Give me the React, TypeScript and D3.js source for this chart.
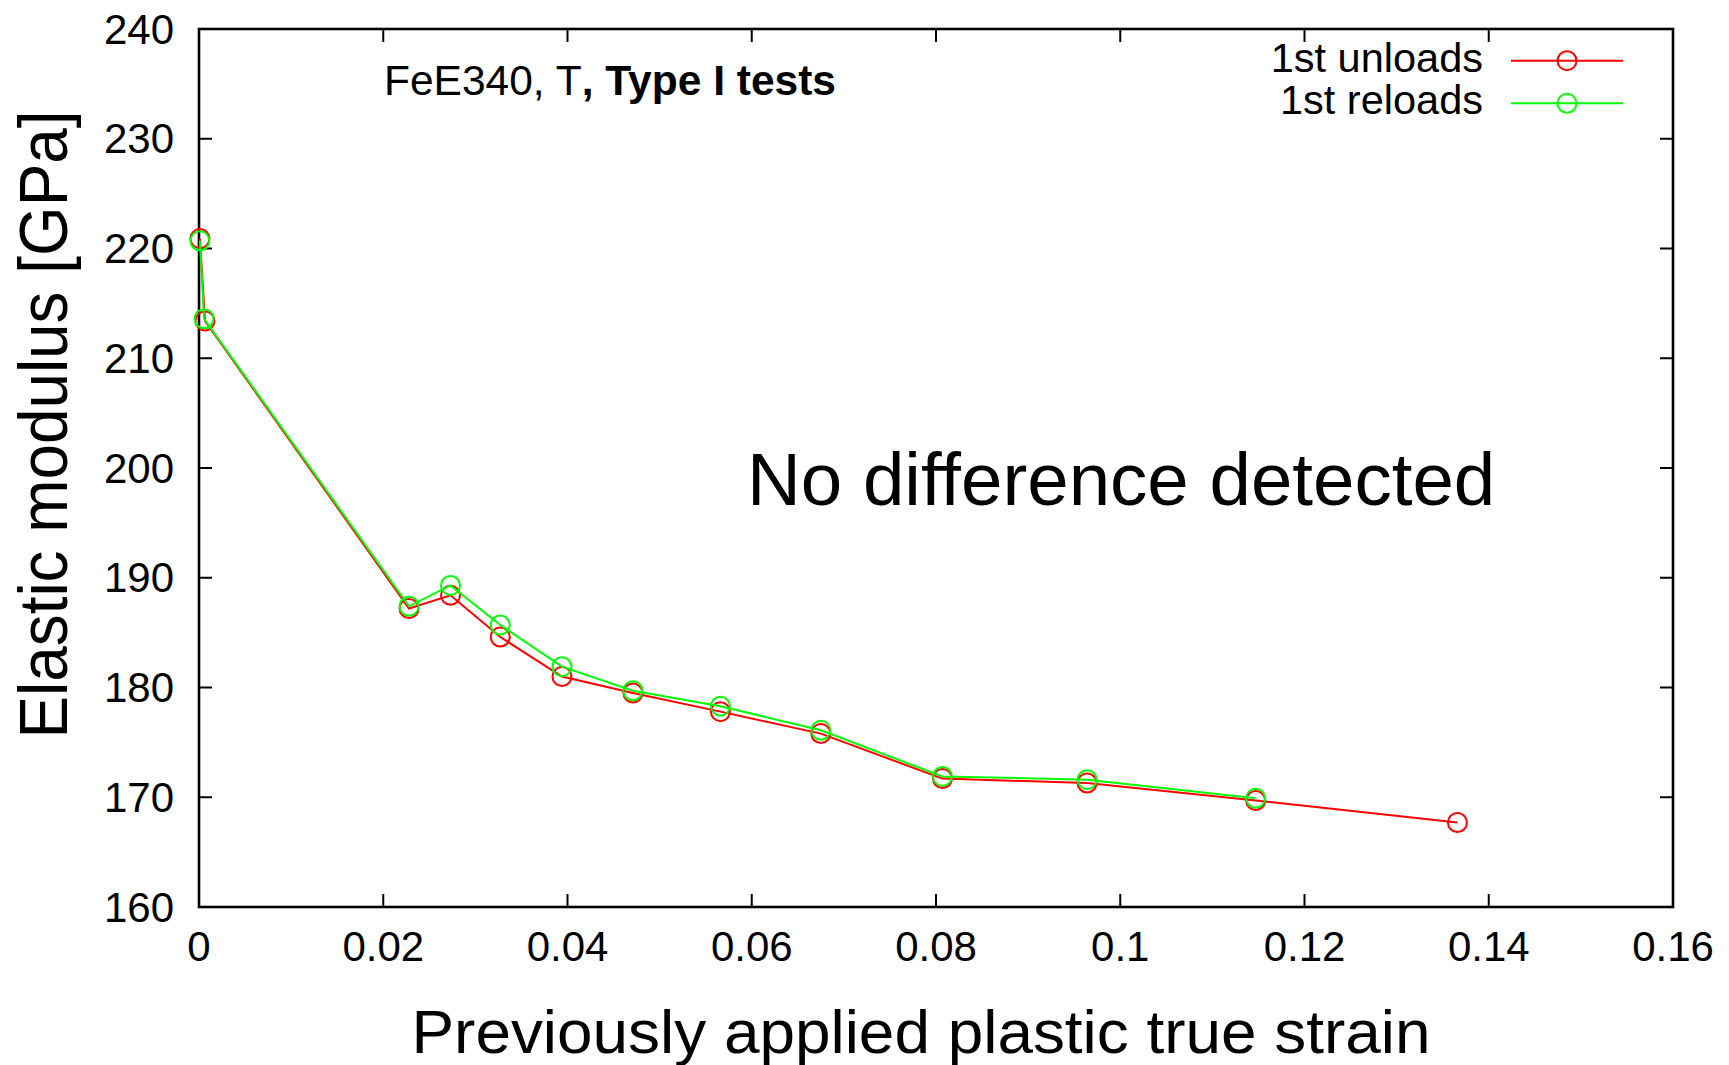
import React from "react";
import * as d3 from "d3";

const xTicks = [0, 0.02, 0.04, 0.06, 0.08, 0.1, 0.12, 0.14, 0.16];
const xTickLabels = ["0", "0.02", "0.04", "0.06", "0.08", "0.1", "0.12", "0.14", "0.16"];
const yTicks = [160, 170, 180, 190, 200, 210, 220, 230, 240];

const unloadStrain = [0.0001, 0.00065, 0.0228, 0.0273, 0.0327, 0.0394, 0.0471, 0.0566, 0.0675, 0.0807, 0.0964, 0.1147, 0.1366];
const unloadModulus = [220.9, 213.4, 187.2, 188.4, 184.6, 181.0, 179.5, 177.8, 175.8, 171.7, 171.3, 169.7, 167.7];

const reloadStrain = [0.0001, 0.00055, 0.0228, 0.0273, 0.0327, 0.0394, 0.0471, 0.0566, 0.0675, 0.0807, 0.0964, 0.1147];
const reloadModulus = [220.7, 213.6, 187.4, 189.3, 185.7, 181.9, 179.7, 178.3, 176.1, 171.9, 171.6, 169.9];

const seriesNames = ["1st unloads", "1st reloads"];
const seriesColors = ["#ff0000", "#00ff00"];

const W = 1729;
const H = 1065;
const left = 199, right = 1673, top = 29, bottom = 907;

export default function App() {
  const x = d3.scaleLinear().domain([0, 0.16]).range([left, right]);
  const y = d3.scaleLinear().domain([160, 240]).range([bottom, top]);
  const line = d3.line<[number, number]>().x(d => x(d[0])).y(d => y(d[1]));

  const series = [
    unloadStrain.map((s, i) => [s, unloadModulus[i]] as [number, number]),
    reloadStrain.map((s, i) => [s, reloadModulus[i]] as [number, number]),
  ];
  const tickLen = 13;
  const font = "'Liberation Sans', Arial, Helvetica, sans-serif";

  return (
    <svg width={W} height={H} style={{ position: "absolute", left: 0, top: 0, background: "#fff" }} fontFamily={font}>
      <rect x={0} y={0} width={W} height={H} fill="#fff" />
      {/* ticks */}
      {xTicks.map((t, i) => (
        <g key={"xt" + i}>
          <line x1={x(t)} x2={x(t)} y1={bottom} y2={bottom - tickLen} stroke="#000" strokeWidth={2} />
          <line x1={x(t)} x2={x(t)} y1={top} y2={top + tickLen} stroke="#000" strokeWidth={2} />
          <text x={x(t)} y={961} fontSize={42} textAnchor="middle" fill="#000">{xTickLabels[i]}</text>
        </g>
      ))}
      {yTicks.map((t, i) => (
        <g key={"yt" + i}>
          <line x1={left} x2={left + tickLen} y1={y(t)} y2={y(t)} stroke="#000" strokeWidth={2} />
          <line x1={right} x2={right - tickLen} y1={y(t)} y2={y(t)} stroke="#000" strokeWidth={2} />
          <text x={174} y={y(t) + 14.5} fontSize={42} textAnchor="end" fill="#000">{t}</text>
        </g>
      ))}
      <rect x={left} y={top} width={right - left} height={bottom - top} fill="none" stroke="#000" strokeWidth={2.6} />

      {/* series */}
      {series.map((d, si) => (
        <g key={"s" + si}>
          <path d={line(d) || ""} fill="none" stroke={seriesColors[si]} strokeWidth={2} />
          {d.map((p, i) => (
            <circle key={i} cx={x(p[0])} cy={y(p[1])} r={9.5} fill="none" stroke={seriesColors[si]} strokeWidth={2} />
          ))}
        </g>
      ))}

      {/* legend */}
      {seriesNames.map((n, i) => {
        const ly = 60.7 + i * 42.6;
        return (
          <g key={"lg" + i}>
            <text x={1483} y={ly + 11} fontSize={41.5} textAnchor="end" fill="#000">{n}</text>
            <line x1={1511} x2={1623} y1={ly} y2={ly} stroke={seriesColors[i]} strokeWidth={2} />
            <circle cx={1567} cy={ly} r={9.5} fill="none" stroke={seriesColors[i]} strokeWidth={2} />
          </g>
        );
      })}

      {/* title */}
      <text x={384} y={95} fontSize={42.5} fill="#000">
        <tspan>FeE340, T</tspan>
        <tspan fontWeight="bold">, Type I tests</tspan>
      </text>

      {/* annotation */}
      <text x={747} y={505} fontSize={74.5} fill="#000">No difference detected</text>

      {/* axis labels */}
      <text x={921} y={1053} fontSize={62} textAnchor="middle" fill="#000" textLength={1019} lengthAdjust="spacingAndGlyphs">Previously applied plastic true strain</text>
      <text transform={`translate(67, ${(100 + 670) / 2 * 1.1027}) rotate(-90)`} x={0} y={0} fontSize={68} textAnchor="middle" fill="#000" textLength={628} lengthAdjust="spacingAndGlyphs">Elastic modulus [GPa]</text>
    </svg>
  );
}
